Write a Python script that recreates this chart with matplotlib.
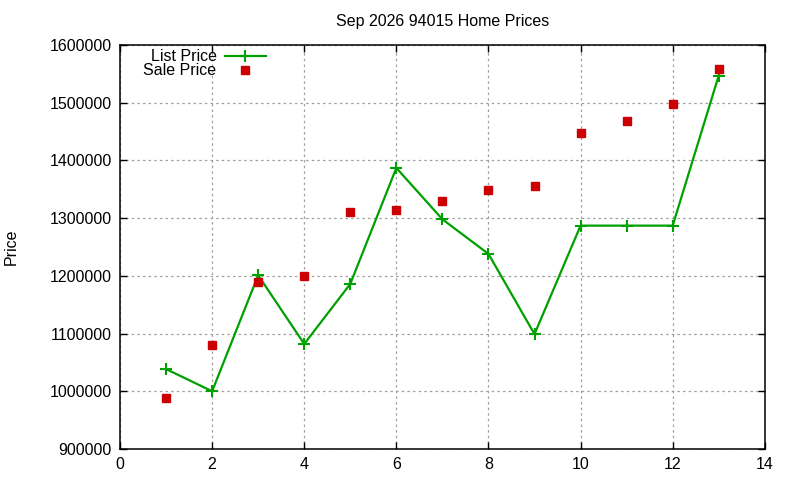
import matplotlib

matplotlib.use("Agg")
import matplotlib.pyplot as plt
from matplotlib.ticker import MultipleLocator, FuncFormatter

plt.rcParams["font.family"] = ["Liberation Sans", "DejaVu Sans"]

# data
months = [1, 2, 3, 4, 5, 6, 7, 8, 9, 10, 11, 12, 13]
list_price = [1038500, 1000000, 1201000, 1082000, 1186000, 1387000, 1298000,
              1238000, 1099000, 1287000, 1287000, 1287000, 1547000]
sale_price = [989000, 1080000, 1189000, 1200000, 1310000, 1314000, 1329000,
              1349000, 1355000, 1448000, 1468000, 1498000, 1558000]

TITLE = "Sep 2026 94015 Home Prices"
GREEN = "#00a000"
RED = "#cc0000"
FS = 11.5

fig = plt.figure(figsize=(8, 4.8), dpi=100)
ax = fig.add_axes([0.15, 0.0646, 0.806, 0.8417])

ax.plot(months, list_price, color=GREEN, linewidth=1.6, marker="+",
        markersize=8, markeredgewidth=1.5, label="List Price", zorder=3)
ax.plot(months, sale_price, linestyle="none", color=RED, marker="s",
        markersize=6, label="Sale Price", zorder=4)

ax.set_xlim(0, 14)
ax.set_ylim(900000, 1600000)
ax.xaxis.set_major_locator(MultipleLocator(2))
ax.yaxis.set_major_locator(MultipleLocator(100000))
ax.yaxis.set_major_formatter(FuncFormatter(lambda v, p: f"{v:.0f}"))

ax.tick_params(direction="in", top=True, right=True, length=5, width=1,
               labelsize=FS, pad=6)
ax.grid(True, color="#a0a0a0", linestyle=(0, (2, 2.5)), linewidth=0.9)
for s in ax.spines.values():
    s.set_linewidth(1.1)

ax.set_title(TITLE, fontsize=FS, pad=14)
ax.set_ylabel("Price", fontsize=FS, labelpad=22)

leg = ax.legend(loc="upper left", bbox_to_anchor=(0.014, 1.025),
                frameon=False, markerfirst=False, fontsize=FS,
                handlelength=2.6, handletextpad=0.5, labelspacing=-0.05)

fig.savefig("out.png", dpi=100, facecolor="white")
